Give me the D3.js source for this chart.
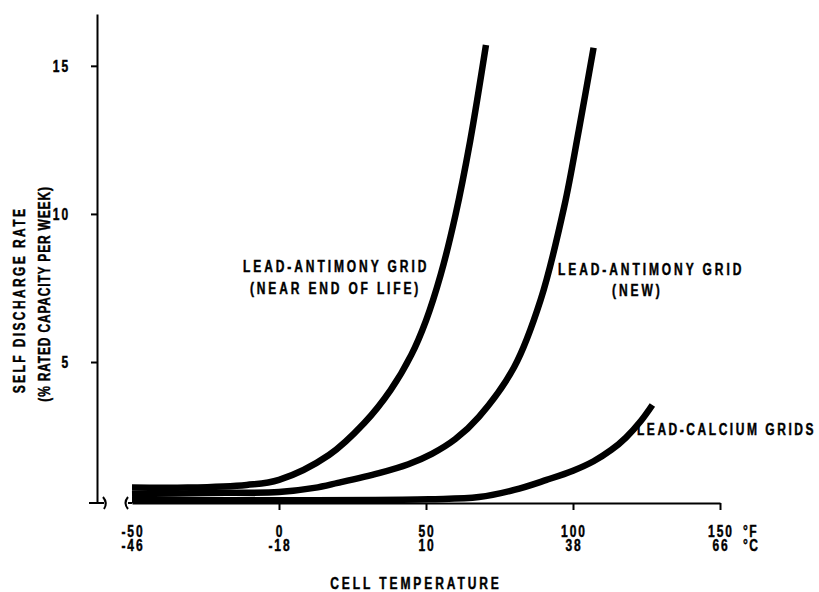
<!DOCTYPE html>
<html>
<head>
<meta charset="utf-8">
<script src="https://cdn.jsdelivr.net/npm/d3@7"></script>
<style>
	body{margin:0;background:#fff;}
	text{font-family:'Liberation Sans',Arial,sans-serif;font-weight:bold;fill:#000;stroke:#000;stroke-width:0.45px;}
</style>
</head>
<body>
<script>
//dims
const width = 819, height = 592;

//data
const tempF = [-50, 0, 50, 100, 150];           //x tick labels, deg F
const tempC = ['-46', '-18', '10', '38', '66']; //second row, deg C
const rateTicks = [5, 10, 15];                  //y ticks
// [deg F, % rated capacity per week]
const nearEndOfLife = [[-50,0.76],[-31,0.76],[-11,0.85],[0,1.02],[17,1.86],[29,2.94],[38,4.06],[45,5.24],[50,6.4],[55,7.95],[60,9.95],[65,12.45],[70.4,15.7]];
const newGrid = [[-50,0.54],[-25,0.58],[0,0.61],[12,0.75],[20,0.92],[34,1.25],[44,1.55],[52,1.9],[60,2.4],[68,3.15],[80,4.83],[89,7.1],[97,10.24],[102,12.84],[107,15.61]];
const leadCalcium = [[-50,0.34],[51,0.37],[68,0.44],[80,0.68],[91,1.02],[100,1.33],[107,1.65],[113,2.03],[118,2.45],[123,3.0],[127,3.55]];
const seriesNames = ['LEAD-ANTIMONY GRID|(NEAR END OF LIFE)', 'LEAD-ANTIMONY GRID|(NEW)', 'LEAD-CALCIUM GRIDS'];

//layout
const yFloor = 0.24, yTop = 16.75; //axis is broken, it does not start at zero
const x = d3.scaleLinear().domain([-50, 150]).range([132, 720]);
const y = d3.scaleLinear().domain([yFloor, yTop]).range([503, 14]);
const yAxisX = 97;
const squeeze = 0.75; //old condensed lettering
const labelPos = [ [[243,272,3.9],[250,294,3.8]], [[558,275,3.9],[612,296,3.9]], [[637,435,3.4]] ];

const svg = d3.select('body').append('svg')
	.attr('width', width)
	.attr('height', height);
svg.append('rect').attr('width', width).attr('height', height).attr('fill', '#fff');

// condensed text helper
function addText(tx, ty, txt, spacing, anchor, rot){
	return svg.append('text')
		.attr('transform', `translate(${tx},${ty}) rotate(${rot||0}) scale(${squeeze},1)`)
		.attr('font-size', 16)
		.attr('text-anchor', anchor || 'start')
		.style('letter-spacing', spacing + 'px')
		.text(txt);
}

//y axis
const gy = svg.append('g')
	.attr('transform', `translate(${yAxisX},0)`)
	.call(d3.axisLeft(y).tickValues(rateTicks).tickSizeInner(6).tickSizeOuter(0).tickFormat(''));
gy.select('.domain').attr('stroke-width', 2);
gy.selectAll('.tick line').attr('stroke-width', 2);
rateTicks.forEach(d => addText(70, y(d) + 6, d, 2.6, 'end'));

//x axis (ticks only, labels in two rows)
const gx = svg.append('g')
	.attr('transform', `translate(0,${y(yFloor)})`)
	.call(d3.axisBottom(x).tickValues(tempF.slice(1)).tickSizeInner(7).tickSizeOuter(0).tickFormat(''));
gx.select('.domain').attr('stroke-width', 2);
gx.selectAll('.tick line').attr('stroke-width', 2);

//axis break marks near origin
const by = y(yFloor);
svg.append('path')
	.attr('d', `M${yAxisX-8},${by}H${yAxisX+7} M${yAxisX+6},${by-6} Q${yAxisX+11},${by} ${yAxisX+7},${by+6} M${x(-50)-4},${by-6} Q${x(-50)-9},${by} ${x(-50)-4},${by+6} M${x(-50)-4},${by}H${x(-50)}`)
	.attr('fill', 'none').attr('stroke', '#000').attr('stroke-width', 2);

//tick label rows
tempF.forEach((d, i) => {
	addText(x(d) + 1, 537, d, 2.6, 'middle');
	addText(x(d) + 1, 551, tempC[i], 2.6, 'middle');
});
addText(743, 537, '°F', 2);
addText(743, 551, '°C', 2);

//axis titles
addText(416, 589, 'CELL TEMPERATURE', 3.9, 'middle');
addText(25, 300, 'SELF DISCHARGE RATE', 3.2, 'middle', -90);
addText(50, 294, '(% RATED CAPACITY PER WEEK)', 1.1, 'middle', -90);

//curves
const line = d3.line()
	.x(d => x(d[0]))
	.y(d => y(d[1]))
	.curve(d3.curveCatmullRom.alpha(0.5));
svg.selectAll('.curve').data([nearEndOfLife, newGrid, leadCalcium]).enter().append('path')
	.attr('class', 'curve')
	.attr('d', line)
	.attr('fill', 'none')
	.attr('stroke', '#000')
	.attr('stroke-width', 6.5);

//curve labels
seriesNames.forEach((name, i) => {
	name.split('|').forEach((txt, j) => {
		const p = labelPos[i][j];
		addText(p[0], p[1], txt, p[2]);
	});
});
</script>
</body>
</html>
